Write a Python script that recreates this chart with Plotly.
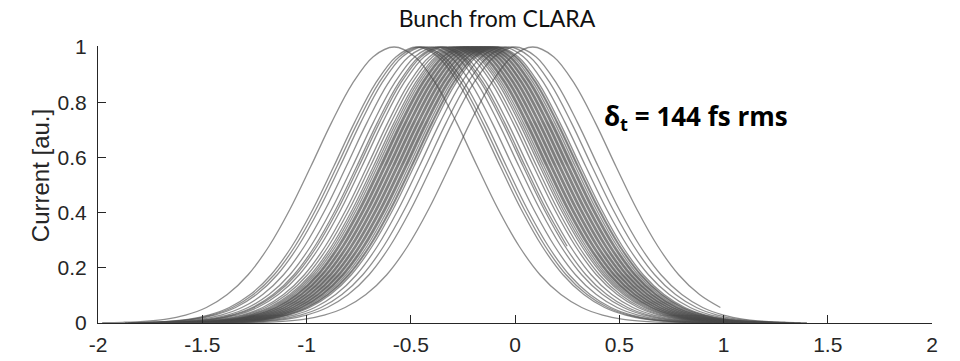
import plotly.graph_objects as go

# Peak positions (time of maximum current) of each measured bunch profile [ps]
centers = [-0.58, -0.47, -0.455, -0.44, -0.41, -0.38, -0.36, -0.35, -0.335, -0.31,
           -0.295, -0.28, -0.27, -0.26, -0.25, -0.245, -0.24, -0.23, -0.225, -0.22,
           -0.21, -0.205, -0.20, -0.19, -0.185, -0.18, -0.17, -0.165, -0.16, -0.15,
           -0.145, -0.14, -0.13, -0.125, -0.12, -0.11, -0.10, -0.095, -0.085, -0.06,
           -0.03, 0.0, 0.085]
# Last sample offset (relative to peak) of each recorded profile
end_offsets = [1.4] * len(centers)
end_offsets[7] = 0.6
end_offsets[-1] = 0.9

# Normalised current profile, vs offset from peak [ps]
profile_offsets = [-1.4, -1.3, -1.2, -1.1, -1.0, -0.9, -0.8, -0.7, -0.6, -0.5, -0.4, -0.3,
                   -0.2, -0.1, 0.0, 0.1, 0.2, 0.3, 0.4, 0.5, 0.6, 0.7, 0.8, 0.9, 1.0,
                   1.1, 1.2, 1.3, 1.4]
profile_values = [0.0009, 0.0025, 0.006, 0.0135, 0.0286, 0.056, 0.103, 0.175, 0.278, 0.411,
                  0.566, 0.726, 0.867, 0.965, 1.0, 0.965, 0.867, 0.726, 0.566, 0.411,
                  0.278, 0.175, 0.103, 0.056, 0.0286, 0.0135, 0.006, 0.0025, 0.0009]

x_ticks = [-2, -1.5, -1, -0.5, 0, 0.5, 1, 1.5, 2]
x_ticktext = ["-2", "-1.5", "-1", "-0.5", "0", "0.5", "1", "1.5", "2"]
y_ticks = [0, 0.2, 0.4, 0.6, 0.8, 1]
y_ticktext = ["0", "0.2", "0.4", "0.6", "0.8", "1"]

title_text = "Bunch from CLARA"
ylabel_text = "Current [au.]"
note_text = "<b>δ<sub>t</sub> = 144 fs rms</b>"

fig = go.Figure()
for c, e in zip(centers, end_offsets):
    xs = [c + o for o, v in zip(profile_offsets, profile_values) if o <= e + 1e-9]
    ys = [v for o, v in zip(profile_offsets, profile_values) if o <= e + 1e-9]
    fig.add_trace(go.Scatter(
        x=xs, y=ys, mode="lines",
        line=dict(color="rgba(75,75,75,0.62)", width=1.3, shape="spline", smoothing=1.0),
        showlegend=False, hoverinfo="skip"))

axis_font = dict(family="Liberation Sans, Arial, sans-serif", size=21, color="#262626")

fig.update_layout(
    width=960, height=361,
    margin=dict(l=98, r=28, t=46, b=38),
    paper_bgcolor="white", plot_bgcolor="white",
    title=dict(text=title_text, x=497 / 960, xanchor="center", xref="container",
               y=1 - 19 / 361, yanchor="middle", yref="container",
               font=dict(family="Lato, Open Sans, sans-serif", size=23, color="#111111")),
    xaxis=dict(range=[-2, 2], tickvals=x_ticks, ticktext=x_ticktext,
               showline=True, linecolor="#262626", linewidth=1,
               ticks="inside", ticklen=8, tickcolor="#262626", tickwidth=1,
               showgrid=False, zeroline=False, tickfont=axis_font,
               ticklabelstandoff=3, automargin=False, fixedrange=True),
    yaxis=dict(range=[0, 1.0036], tickvals=y_ticks, ticktext=y_ticktext,
               showline=True, linecolor="#262626", linewidth=1,
               ticks="inside", ticklen=8, tickcolor="#262626", tickwidth=1,
               showgrid=False, zeroline=False, tickfont=axis_font,
               ticklabelstandoff=6, automargin=False, fixedrange=True),
    annotations=[
        dict(text=ylabel_text, textangle=-90, xref="paper", yref="paper",
             x=(40 - 98) / 834, y=0.53, xanchor="center", yanchor="middle",
             showarrow=False,
             font=dict(family="Liberation Sans, Arial, sans-serif", size=24, color="#262626")),
        dict(text=note_text, xref="x", yref="y", x=0.418, y=0.748,
             xanchor="left", yanchor="middle", showarrow=False,
             font=dict(family="Open Sans, Lato, sans-serif", size=26, color="#000000")),
    ],
)

fig.write_html("out.html")
